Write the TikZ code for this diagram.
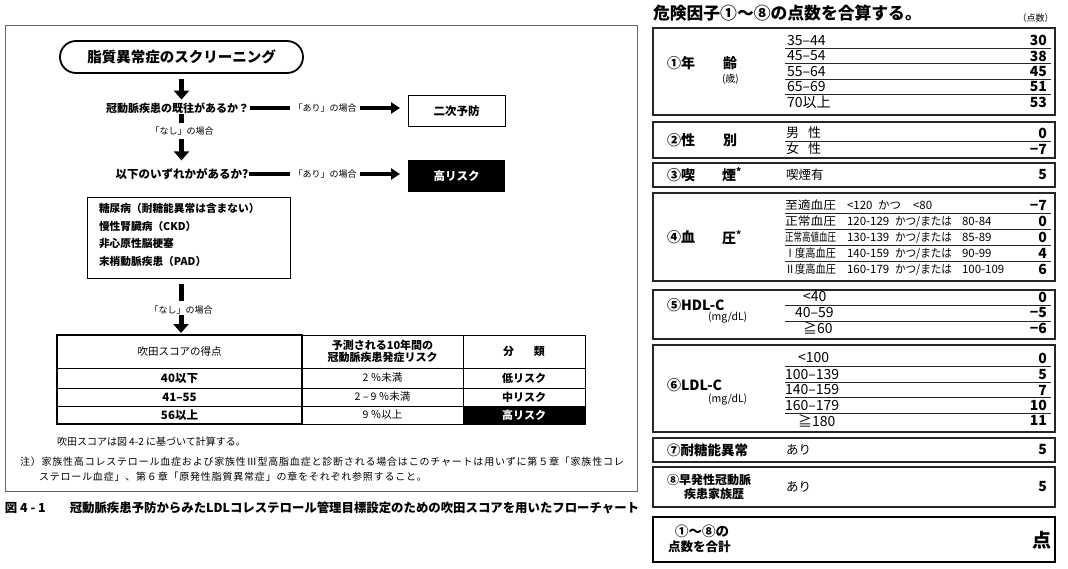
\documentclass[tikz,border=0pt]{standalone}
\usepackage{fontspec}
\usepackage{graphicx}
\setmainfont{Noto Sans CJK JP}
\newfontfamily\spaced[LetterSpace=8]{Noto Sans CJK JP}
\usetikzlibrary{arrows.meta,shapes.misc}
\newcommand\fsz[1]{\fontsize{#1}{#1}\selectfont}
\newcommand\fitw[2]{\resizebox{#1}{\height}{#2}}
\begin{document}
\begin{tikzpicture}[x=1pt,y=-1pt,
  every node/.style={inner sep=0pt,outer sep=0pt,font=\fsz{11}},
  varr/.style={line width=5pt,-{Triangle[width=15pt,length=9pt]}},
  vbar/.style={line width=5pt},
  harr/.style={line width=3.5pt,-{Triangle[width=11pt,length=9pt]}},
  hbar/.style={line width=3.5pt},
  cell/.style={draw,line width=0.7pt},
  rbox/.style={draw=black!85,line width=1.1pt,minimum width=402pt},
  uline/.style={line width=0.8pt,black!85},
  lab/.style={font=\bfseries\fsz{14},anchor=west},
  rowt/.style={font=\fsz{14},anchor=west},
  val/.style={font=\bfseries\fsz{14},anchor=east},
  bpt/.style={font=\fsz{11.5},anchor=west}
]
\useasboundingbox (0,0) rectangle (1068,568);
\fill[white] (0,0) rectangle (1068,568);

% ---------------- left panel ----------------
\draw[black!60,line width=0.9pt] (5,25) rectangle (637,491);

\node[draw,line width=1.8pt,rounded rectangle,minimum width=243pt,minimum height=32pt,font=\bfseries\fsz{14.5}] (title) at (181.5,57) {脂質異常症のスクリーニング};

\node[font=\bfseries\fsz{11}] (q1) at (177.5,108) {冠動脈疾患の既往があるか？};
\node[font=\fsz{9}] (ari1) at (325,108) {「あり」の場合};
\node[draw,line width=1pt,minimum width=97pt,minimum height=31pt,font=\bfseries\fsz{11.5}] (niji) at (456.5,111) {二次予防};

\node[font=\fsz{9}] (nashi1) at (182,131) {「なし」の場合};

\node[font=\bfseries\fsz{11.5}] (q2) at (182,174) {以下のいずれかがあるか?};
\node[font=\fsz{9}] (ari2) at (325,174) {「あり」の場合};
\node[fill=black,minimum width=97pt,minimum height=32pt,text=white,font=\bfseries\fsz{11.5}] (high) at (456.5,176) {高リスク};

\node[draw,line width=1pt,minimum width=203pt,minimum height=81pt] (risk) at (188.5,237.5) {};
\node[anchor=west,font=\bfseries\fsz{10.7}] (r1) at (99,208.5) {糖尿病（耐糖能異常は含まない）};
\node[anchor=west,font=\bfseries\fsz{10.7}] (r2) at (99,226) {慢性腎臓病（CKD）};
\node[anchor=west,font=\bfseries\fsz{10.7}] (r3) at (99,243.5) {非心原性脳梗塞};
\node[anchor=west,font=\bfseries\fsz{10.7}] (r4) at (99,261) {末梢動脈疾患（PAD）};

\node[font=\fsz{9}] (nashi2) at (181,310) {「なし」の場合};

% connectors
\draw[varr,shorten <=6pt,shorten >=3pt] (title.south) -- (title.south |- q1.north);
\draw[vbar,shorten <=1pt,shorten >=4pt] (title.south |- q1.south) -- (title.south |- nashi1.north);
\draw[varr,shorten <=4pt,shorten >=8pt] (title.south |- nashi1.south) -- (title.south |- q2.north);
\draw[hbar,shorten <=1pt,shorten >=3.5pt] (q1.east) -- (ari1.west);
\draw[harr,shorten <=3.5pt,shorten >=8pt] (ari1.east) -- (ari1.east -| niji.west);
\draw[hbar,shorten <=1pt,shorten >=3.5pt] (q2.east) -- (ari2.west);
\draw[harr,shorten <=3.5pt,shorten >=8pt] (ari2.east) -- (ari2.east -| high.west);
\draw[vbar,shorten <=6pt,shorten >=5pt] (nashi2.north |- risk.south) -- (nashi2.north);

% table
\node[cell,minimum width=245pt,minimum height=33pt,font=\fsz{10.5}] (h1) at (179.5,351.5) {吹田スコアの得点};
\node[cell,minimum width=161pt,minimum height=33pt,align=center,font=\bfseries\fontsize{11}{11.5}\selectfont] (h2) at (382.5,351.5) {予測される10年間の\\冠動脈疾患発症リスク};
\node[cell,minimum width=122pt,minimum height=33pt,font=\bfseries\fsz{11}] (h3) at (524,351.5) {分\hspace{1.8em}類};
\node[cell,minimum width=245pt,minimum height=20pt,font=\bfseries\fsz{11.5}] (c11) at (179.5,378) {40以下};
\node[cell,minimum width=161pt,minimum height=20pt,font=\fsz{10.5}] (c12) at (382.5,378) {2 ％未満};
\node[cell,minimum width=122pt,minimum height=20pt,font=\bfseries\fsz{11}] (c13) at (524,378) {低リスク};
\node[cell,minimum width=245pt,minimum height=18pt,font=\bfseries\fsz{11.5}] (c21) at (179.5,397) {41–55};
\node[cell,minimum width=161pt,minimum height=18pt,font=\fsz{10.5}] (c22) at (382.5,397) {2 – 9 ％未満};
\node[cell,minimum width=122pt,minimum height=18pt,font=\bfseries\fsz{11}] (c23) at (524,397) {中リスク};
\node[cell,minimum width=245pt,minimum height=18pt,font=\bfseries\fsz{11.5}] (c31) at (179.5,415) {56以上};
\node[cell,minimum width=161pt,minimum height=18pt,font=\fsz{10.5}] (c32) at (382.5,415) {9 ％以上};
\node[cell,fill=black,text=white,minimum width=122pt,minimum height=18pt,font=\bfseries\fsz{11}] (c33) at (524,415) {高リスク};
\draw[line width=2.8pt] (h1.north west) rectangle (c31.south east);
\draw[varr,shorten <=1pt,shorten >=2pt] (nashi2.south) -- (nashi2.south |- h1.north);

\node[anchor=west,font=\fsz{10}] (note0) at (57,442) {吹田スコアは図 4-2 に基づいて計算する。};
\node[anchor=west,font=\spaced\fsz{10}] (note1) at (20,462) {注）家族性高コレステロール血症および家族性Ⅲ型高脂血症と診断される場合はこのチャートは用いずに第５章「家族性コレ};
\node[anchor=west,font=\spaced\fsz{10}] (note2) at (39,477) {ステロール血症」、第６章「原発性脂質異常症」の章をそれぞれ参照すること。};

\node[anchor=west,font=\bfseries\fsz{12.4}] (cap) at (5,508) {図 4 - 1\hspace{24pt}冠動脈疾患予防からみたLDLコレステロール管理目標設定のための吹田スコアを用いたフローチャート};

% ---------------- right panel ----------------
\node[anchor=west,font=\bfseries\fsz{16.8}] (rtitle) at (653,13) {危険因子①〜⑧の点数を合算する。};
\node[font=\fsz{9}] (unit) at (1035.5,18) {（点数）};

% box 1
\node[rbox,minimum height=87pt] (b1) at (854,71.5) {};
\node[lab] (l1a) at (667,63) {①年};
\node[lab] (l1b) at (723,63) {齢};
\node[anchor=west,font=\fsz{10}] (l1c) at (722,79) {(歳)};
\foreach \t/\v/\y [count=\i] in {35–44/30/40.5,45–54/38/56,55–64/45/71.5,65–69/51/87,70以上/53/102.5}{
  \node[rowt] (a\i) at (787,\y) {\t};
  \node[val] (av\i) at (1047,\y) {\v};
}
\foreach \y in {48,63.5,79,94.5} \draw[uline] (785,\y) -- (1051,\y);

% box 2
\node[rbox,minimum height=36pt] (b2) at (854,140) {};
\node[lab] (l2a) at (667,140) {②性};
\node[lab] (l2b) at (723,140) {別};
\node[rowt,font=\fsz{13}] (s1) at (786,133) {男\hspace{0.7em}性};
\node[rowt,font=\fsz{13}] (s2) at (786,149) {女\hspace{0.7em}性};
\node[val] (sv1) at (1047,133) {0};
\node[val] (sv2) at (1047,149) {−7};
\draw[uline] (785,141) -- (1051,141);

% box 3
\node[rbox,minimum height=24pt] (b3) at (854,175) {};
\node[lab] (l3a) at (667,175) {③喫};
\node[lab] (l3b) at (722,175) {煙\textsuperscript{*}};
\node[rowt,font=\fsz{12.5}] (k1) at (786,175) {喫煙有};
\node[val] (kv1) at (1047,175) {5};

% box 4
\node[rbox,minimum height=88pt] (b4) at (854,237) {};
\node[lab] (l4a) at (667,237.5) {④血};
\node[lab] (l4b) at (722,237.5) {圧\textsuperscript{*}};
\node[bpt] (p1a) at (785,205.5) {\fitw{51pt}{至適血圧}};
\node[bpt] (p1b) at (847,205.5) {<120};
\node[bpt] (p1c) at (878,205.5) {かつ};
\node[bpt] (p1d) at (913,205.5) {<80};
\foreach \lb/\na/\nb/\y [count=\i from 2] in {正常血圧/120-129/80-84/221.5,正常高値血圧/130-139/85-89/237.5,Ⅰ度高血圧/140-159/90-99/253.5,Ⅱ度高血圧/160-179/100-109/269.5}{
  \node[bpt] (p\i a) at (785,\y) {\fitw{51pt}{\lb}};
  \node[bpt] (p\i b) at (847,\y) {\na};
  \node[bpt] (p\i c) at (895,\y) {\fitw{57pt}{かつ/または}};
  \node[bpt] (p\i d) at (962,\y) {\nb};
}
\foreach \v/\y [count=\i] in {−7/205.5,0/221.5,0/237.5,4/253.5,6/269.5}
  \node[val] (pv\i) at (1047,\y) {\v};
\foreach \y in {213,229,245,261} \draw[uline] (785,\y) -- (1051,\y);

% box 5
\node[rbox,minimum height=49pt] (b5) at (854,314.5) {};
\node[lab] (l5a) at (667,305) {⑤HDL-C};
\node[anchor=west,font=\fsz{10.5}] (l5b) at (708,318) {(mg/dL)};
\foreach \t/\v/\x/\y [count=\i] in {<40/0/803/297,40–59/−5/795/313,≧60/−6/803/328}{
  \node[rowt] (h\i r) at (\x,\y) {\t};
  \node[val] (hv\i) at (1047,\y) {\v};
}
\foreach \y in {305,321} \draw[uline] (785,\y) -- (1051,\y);

% box 6
\node[rbox,minimum height=87pt] (b6) at (854,388.5) {};
\node[lab] (l6a) at (667,385) {⑥LDL-C};
\node[anchor=west,font=\fsz{10.5}] (l6b) at (708,400) {(mg/dL)};
\foreach \t/\v/\x/\y [count=\i] in {<100/0/798/358,100–139/5/785/374.5,140–159/7/785/390,160–179/10/785/405.5,≧180/11/798/420.5}{
  \node[rowt] (d\i r) at (\x,\y) {\t};
  \node[val] (dv\i) at (1047,\y) {\v};
}
\foreach \y in {366,382,397.5,413} \draw[uline] (785,\y) -- (1051,\y);

% box 7
\node[rbox,minimum height=24pt] (b7) at (854,450) {};
\node[lab,font=\bfseries\fsz{13.5}] (l7a) at (667,450) {⑦耐糖能異常};
\node[rowt,font=\fsz{12.5}] (g1) at (786,450) {あり};
\node[val] (gv1) at (1047,450) {5};

% box 8
\node[rbox,minimum height=40pt] (b8) at (854,487) {};
\node[lab,font=\bfseries\fsz{12}] (l8a) at (667,480) {⑧早発性冠動脈};
\node[font=\bfseries\fsz{12}] (l8b) at (714,493.5) {疾患家族歴};
\node[rowt,font=\fsz{12.5}] (f1) at (786,487) {あり};
\node[val] (fv1) at (1047,487) {5};

% box 9
\node[draw,line width=2pt,minimum width=402pt,minimum height=45pt] (b9) at (854,539.5) {};
\node[anchor=west,font=\bfseries\fsz{13.5}] (t1) at (675,531) {①〜⑧の};
\node[anchor=west,font=\bfseries\fsz{12.5}] (t2) at (668,546.5) {点数を合計};
\node[anchor=east,font=\bfseries\fsz{19}] (t3) at (1051,540) {点};
\end{tikzpicture}
\end{document}
